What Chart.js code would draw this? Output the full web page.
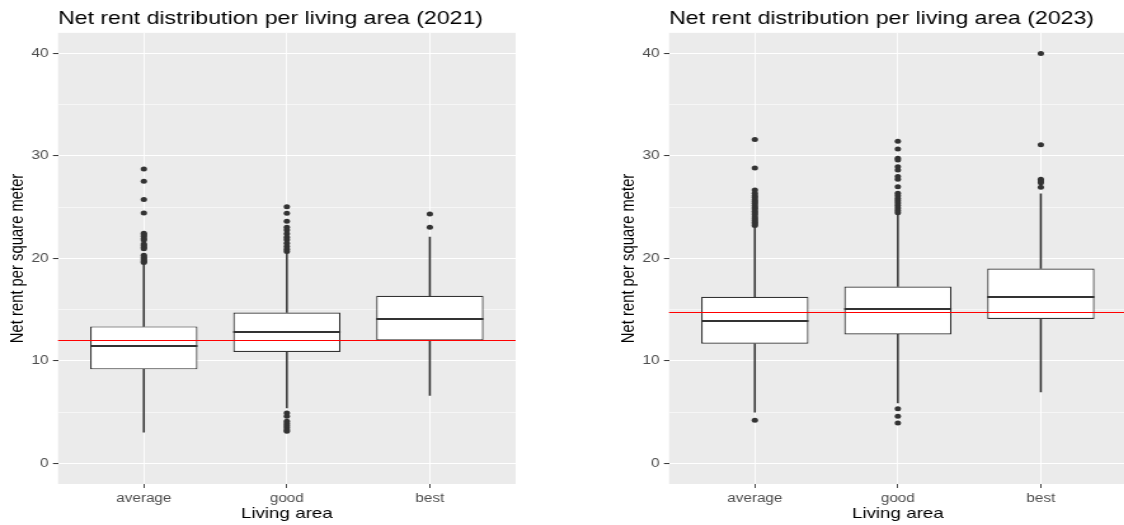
<!DOCTYPE html>
<html>
<head>
<meta charset="utf-8">
<title>Net rent distribution per living area</title>
<script src="https://cdn.jsdelivr.net/npm/chart.js@4.4.0/dist/chart.umd.min.js"></script>
<style>
html, body { margin: 0; padding: 0; background: #fff; width: 1124px; height: 525px; overflow: hidden; }
.panel { position: absolute; top: 0; width: 410px; height: 525px; transform: scaleX(1.27); transform-origin: 0 0; }
#panel2021 { left: 0; }
#panel2023 { left: 611px; }
</style>
</head>
<body>
<div class="panel" id="panel2021"><canvas id="chart2021" width="410" height="525"></canvas></div>
<div class="panel" id="panel2023"><canvas id="chart2023" width="410" height="525"></canvas></div>
<script>
var categories = ['average', 'good', 'best'];
var yMajorTicks = [0, 10, 20, 30, 40];
var yMinorTicks = [5, 15, 25, 35];

// 2021
var lower2021 = [3.05, 5.42, 6.65];
var q1_2021 = [9.18, 10.88, 12.01];
var median2021 = [11.42, 12.82, 14.12];
var q3_2021 = [13.37, 14.73, 16.36];
var upper2021 = [19.54, 20.52, 22.07];
var outAverage2021 = [28.72, 27.53, 25.74, 24.44, 22.46, 22.3, 22.15, 21.95, 21.8, 21.4, 21.25, 21.1, 20.95, 20.3, 20.15, 20.0, 19.85, 19.7, 19.6];
var outGood2021 = [25.05, 24.41, 23.63, 23.05, 22.78, 22.4, 22.07, 21.81, 21.49, 21.16, 20.9, 20.67, 4.93, 4.61, 4.12, 3.9, 3.7, 3.5, 3.3, 3.15];
var outBest2021 = [24.34, 23.05];
var refLine2021 = 12.07;

// 2023
var lower2023 = [5.0, 5.91, 6.98];
var q1_2023 = [11.68, 12.59, 14.09];
var median2023 = [13.92, 15.06, 16.23];
var q3_2023 = [16.26, 17.26, 19.02];
var upper2023 = [23.1, 24.25, 26.29];
var outAverage2023 = [31.61, 28.82, 26.68, 26.35, 26.12, 25.94, 25.71, 25.55, 25.38, 25.16, 24.97, 24.81, 24.6, 24.42, 24.27, 24.05, 23.88, 23.7, 23.52, 23.37, 23.22, 4.22];
var outGood2023 = [31.42, 30.67, 29.77, 29.6, 28.95, 28.63, 27.98, 27.72, 27.0, 26.36, 26.1, 25.85, 25.62, 25.4, 25.15, 24.92, 24.68, 24.45, 5.33, 4.61, 3.96];
var outBest2023 = [39.99, 31.09, 27.72, 27.55, 27.39, 26.94];
var refLine2023 = 14.73;

var FONT = '"Liberation Sans", Arial, sans-serif';

function rangeData(from, to) {
	return categories.map(function(c, i) {
		return {x: i, y: [from[i], to[i]]};
	});
}

function pointData(lists) {
	var pts = [];
	lists.forEach(function(list, i) {
		list.forEach(function(v) {
			pts.push({x: i, y: v});
		});
	});
	return pts;
}

// grey panel, median lines and the red reference line
var boxExtras = {
	id: 'boxExtras',
	beforeDraw: function(chart) {
		var a = chart.chartArea, ctx = chart.ctx;
		ctx.save();
		ctx.fillStyle = '#EBEBEB';
		ctx.fillRect(a.left, a.top, a.right - a.left, a.bottom - a.top);
		ctx.restore();
	},
	afterDatasetsDraw: function(chart, args, opts) {
		var ctx = chart.ctx, y = chart.scales.y, a = chart.chartArea;
		var boxes = chart.getDatasetMeta(0).data;
		ctx.save();
		ctx.strokeStyle = '#333333';
		ctx.lineWidth = 2;
		boxes.forEach(function(el, i) {
			var py = Math.round(y.getPixelForValue(opts.median[i]));
			ctx.beginPath();
			ctx.moveTo(el.x - el.width / 2, py);
			ctx.lineTo(el.x + el.width / 2, py);
			ctx.stroke();
		});
		var ry = Math.round(y.getPixelForValue(opts.refLine)) + 0.5;
		ctx.strokeStyle = '#FF0000';
		ctx.lineWidth = 1;
		ctx.beginPath();
		ctx.moveTo(a.left, ry);
		ctx.lineTo(a.right, ry);
		ctx.stroke();
		ctx.restore();
	}
};

function makeChart(id, year, lower, q1, median, q3, upper, outliers, refLine) {
	var ctx = document.getElementById(id).getContext('2d');
	return new Chart(ctx, {
		type: 'bar',
		data: {
			datasets: [{
				type: 'bar',
				label: 'box',
				data: rangeData(q1, q3),
				backgroundColor: '#FFFFFF',
				borderColor: '#333333',
				borderWidth: 1.2,
				borderSkipped: false,
				grouped: false,
				barPercentage: 1,
				categoryPercentage: 0.75,
				order: 2
			}, {
				type: 'bar',
				label: 'lower whisker',
				data: rangeData(lower, q1),
				backgroundColor: '#333333',
				barThickness: 0.9,
				grouped: false,
				order: 3
			}, {
				type: 'bar',
				label: 'upper whisker',
				data: rangeData(q3, upper),
				backgroundColor: '#333333',
				barThickness: 0.9,
				grouped: false,
				order: 3
			}, {
				type: 'scatter',
				label: 'outliers',
				data: pointData(outliers),
				pointRadius: 2.5,
				pointBackgroundColor: '#333333',
				pointBorderWidth: 0,
				order: 1
			}]
		},
		options: {
			responsive: false,
			animation: false,
			layout: {padding: 0},
			plugins: {
				legend: {display: false},
				tooltip: {enabled: false},
				title: {
					display: true,
					text: 'Net rent distribution per living area (' + year + ')',
					align: 'start',
					fullSize: false,
					color: '#000000',
					font: {family: FONT, size: 18.2, weight: 'normal'},
					padding: {top: 8, bottom: 3}
				},
				boxExtras: {median: median, refLine: refLine}
			},
			scales: {
				x: {
					type: 'linear',
					min: -0.6,
					max: 2.6,
					offset: false,
					afterBuildTicks: function(scale) {
						scale.ticks = categories.map(function(c, i) { return {value: i}; });
					},
					afterFit: function(scale) { scale.height = 41; },
					grid: {offset: false, color: '#FFFFFF', lineWidth: 0.9, tickLength: 4, tickColor: '#333333', tickWidth: 0.9},
					border: {display: false},
					ticks: {
						autoSkip: false,
						maxRotation: 0,
						padding: 3.4,
						color: '#4D4D4D',
						font: {family: FONT, size: 12},
						callback: function(v) { return categories[v]; }
					},
					title: {
						display: true,
						text: 'Living area',
						color: '#000000',
						font: {family: FONT, size: 14.8},
						padding: {top: 0, bottom: 2}
					}
				},
				y: {
					min: -2,
					max: 42,
					afterBuildTicks: function(scale) {
						scale.ticks = yMajorTicks.concat(yMinorTicks).sort(function(a, b) { return a - b; })
							.map(function(v) { return {value: v}; });
					},
					afterFit: function(scale) { scale.width = 45.7; },
					grid: {
						color: '#FFFFFF',
						lineWidth: function(c) { return yMajorTicks.indexOf(c.tick.value) >= 0 ? 1.1 : 0.55; },
						tickLength: 4,
						tickColor: function(c) { return yMajorTicks.indexOf(c.tick.value) >= 0 ? '#333333' : 'rgba(0,0,0,0)'; },
						tickWidth: 1
					},
					border: {display: false},
					ticks: {
						autoSkip: false,
						padding: 3.5,
						color: '#4D4D4D',
						font: {family: FONT, size: 12.2},
						callback: function(v) { return yMajorTicks.indexOf(v) >= 0 ? String(v) : ''; }
					},
					title: {
						display: true,
						text: 'Net rent per square meter',
						color: '#000000',
						font: {family: FONT, size: 14.8},
						padding: {top: 5.4, bottom: 0}
					}
				}
			}
		},
		plugins: [boxExtras]
	});
}

makeChart('chart2021', 2021, lower2021, q1_2021, median2021, q3_2021, upper2021,
	[outAverage2021, outGood2021, outBest2021], refLine2021);
makeChart('chart2023', 2023, lower2023, q1_2023, median2023, q3_2023, upper2023,
	[outAverage2023, outGood2023, outBest2023], refLine2023);
</script>
</body>
</html>
